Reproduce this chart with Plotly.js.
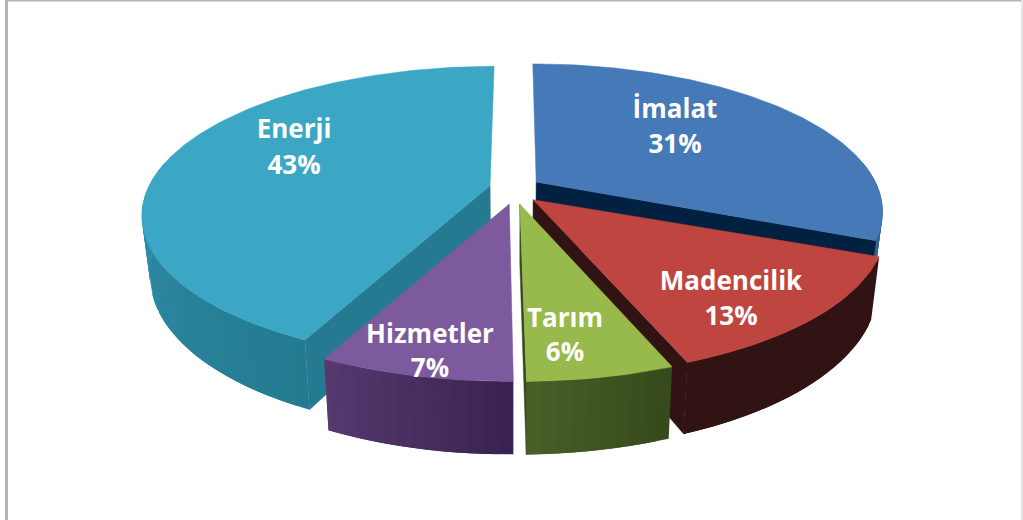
<!DOCTYPE html>
<html>
<head>
<meta charset="utf-8">
<script src="https://cdn.plot.ly/plotly-3.0.1.min.js"></script>
<style>html,body{margin:0;padding:0;background:#fff}#chart{width:1023px;height:520px}</style>
</head>
<body>
<div id="chart"></div>
<script>
const categories = ["İmalat", "Madencilik", "Tarım", "Hizmetler", "Enerji"];
const shares = [31.3, 12.9, 5.6, 7.4, 42.8];

// Styles
const topColors = ["#4579b8", "#bf4540", "#98b94b", "#7c5a9d", "#3ba7c4"];
const cutColors = ["#02203f", "#321313", "#374a1c", "#3a2352", "#257a92"];
const sideStart = ["#36628f", "#321313", "#374a1c", "#3a2352", "#237b90"];
const sideEnd   = ["#36628f", "#321313", "#4a6128", "#573a70", "#2f8ea9"];
const labelX = [675, 731, 565, 430, 294];
const labelY1 = [111, 283, 320, 336, 131];
const labelY2 = [146, 318, 354, 370, 167];

// Projection of the tilted disc
const cx = 515, cy = 188, rx = 342, ry = 143, persp = 0.192, depth = 58, explode = 0.075, zShrink = 0.022;
const rad = d => d * Math.PI / 180;
function project(u, v, z) {
  const s = 1 / (1 + persp * v);
  return [cx + rx * u * s * (1 - zShrink * z), cy - ry * v * s + z * depth * s];
}
function hex(c) { return [1, 3, 5].map(i => parseInt(c.substr(i, 2), 16)); }
function mix(a, b, t) {
  const A = hex(a), B = hex(b);
  return "rgb(" + A.map((x, i) => Math.round(x + (B[i] - x) * t)).join(",") + ")";
}
function poly(pts, color, lw) {
  return {
    type: "scatter", mode: "lines", x: pts.map(p => p[0]), y: pts.map(p => p[1]),
    fill: "toself", fillcolor: color, line: { color: color, width: lw },
    hoverinfo: "skip", showlegend: false
  };
}

const total = shares.reduce((a, b) => a + b, 0);
let acc = 0;
const slices = shares.map((val, i) => {
  const start = acc / total * 360;
  acc += val;
  return { i, start, end: acc / total * 360 };
});

// paint order: back to front
const paintOrder = [0, 4, 1, 3, 2];
const traces = [];
paintOrder.forEach(idx => {
  const sl = slices[idx];
  const mid = rad((sl.start + sl.end) / 2);
  const ox = explode * Math.sin(mid), oy = explode * Math.cos(mid);
  const rim = (deg, z) => project(ox + Math.sin(rad(deg)), oy + Math.cos(rad(deg)), z);
  const apexV = oy < 0 ? oy * 1.5 : oy;
  const apex = z => project(ox, apexV, z);

  // outer wall as overlapping shaded strips
  const a0 = Math.max(sl.start, 80), a1 = Math.min(sl.end, 280);
  const vis1 = Math.min(sl.end, 270);
  const step = 2;
  for (let d = a0; d < a1; d += step) {
    const e = Math.min(d + step * 2, a1);
    const t = Math.min(1, Math.max(0, (d - sl.start) / (vis1 - sl.start)));
    const pts = [];
    for (let q = d; q < e; q += 0.5) pts.push(rim(q, 0));
    pts.push(rim(e, 0), rim(e, 1));
    for (let q = e - 0.5; q > d; q -= 0.5) pts.push(rim(q, 1));
    pts.push(rim(d, 1), rim(d, 0));
    traces.push(poly(pts, mix(sideStart[idx], sideEnd[idx], t), 0));
  }

  // radial cut faces that turn toward the viewer
  if (sl.start > 180) traces.push(poly([apex(0), rim(sl.start, 0), rim(sl.start, 1), apex(1), apex(0)], cutColors[idx], 0.5));
  if (sl.end <= 180) traces.push(poly([apex(0), rim(sl.end, 0), rim(sl.end, 1), apex(1), apex(0)], cutColors[idx], 0.5));

  // top face
  const pts = [apex(0)];
  for (let d = sl.start; d < sl.end; d += 1) pts.push(rim(d, 0));
  pts.push(rim(sl.end, 0), apex(0));
  traces.push(poly(pts, topColors[idx], 0.5));
});

// labels
const pct = shares.map(v => Math.round(v / total * 100) + "%");
traces.push({
  type: "scatter", mode: "text",
  x: labelX.concat(labelX), y: labelY1.concat(labelY2),
  text: categories.concat(pct), textposition: "middle center",
  textfont: { family: "'Open Sans', sans-serif", size: 26, color: "#ffffff", weight: 700 },
  hoverinfo: "skip", showlegend: false
});

const layout = {
  width: 1023, height: 520, margin: { l: 0, r: 0, t: 0, b: 0 },
  paper_bgcolor: "#ffffff", plot_bgcolor: "#ffffff", showlegend: false,
  xaxis: { range: [0, 1023], visible: false, fixedrange: true },
  yaxis: { range: [520, 0], visible: false, fixedrange: true },
  shapes: [
    { type: "rect", xref: "x", yref: "y", x0: 5, x1: 8, y0: 0, y1: 520, fillcolor: "#b5b5b5", line: { width: 0 }, layer: "below" },
    { type: "rect", xref: "x", yref: "y", x0: 5, x1: 1023, y0: 0, y1: 1.5, fillcolor: "#b5b5b5", line: { width: 0 }, layer: "below" },
    { type: "rect", xref: "x", yref: "y", x0: 1021, x1: 1023, y0: 0, y1: 520, fillcolor: "#e4e4e4", line: { width: 0 }, layer: "below" }
  ]
};
Plotly.newPlot("chart", traces, layout, { displayModeBar: false, staticPlot: true });
</script>
</body>
</html>
